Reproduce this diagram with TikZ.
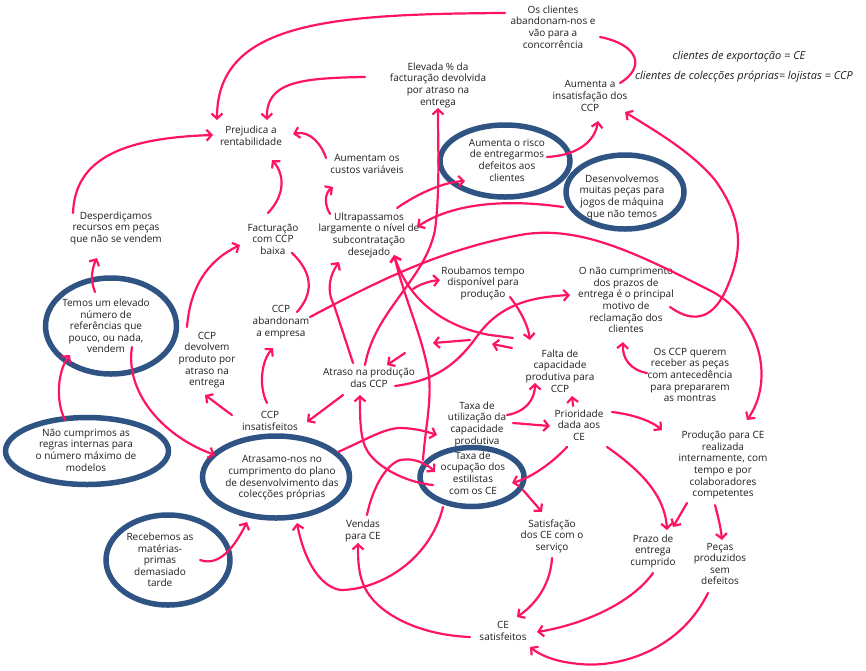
\documentclass[tikz,border=0pt]{standalone}
\usepackage{fontspec}
\setmainfont{Open Sans}
\usetikzlibrary{shapes.geometric,arrows.meta,calc}
\definecolor{pk}{RGB}{255,20,100}
\definecolor{eb}{RGB}{47,84,132}
\definecolor{tx}{RGB}{30,30,30}
\begin{document}
\begin{tikzpicture}[x=1pt,y=-1pt,
 lbl/.style={align=center,font=\fontsize{10}{11.6}\selectfont,text=tx,inner sep=1pt},
 leg/.style={lbl,font=\fontsize{11}{12}\selectfont\itshape},
 ell/.style={draw=eb,line width=5.5pt,ellipse,inner sep=0pt},
 arr/.style={draw=pk,line width=2.2pt,line cap=round,-{Straight Barb[length=5pt,width=11pt]}},
 ln/.style={draw=pk,line width=2.2pt,line cap=round}]
\useasboundingbox (0,0) rectangle (866,670);
% plain labels
\node[lbl] (osc) at (553,27) {Os clientes\\abandonam-nos e\\vão para a\\concorrência};
\node[leg] (leg1) at (739,57) {clientes de exportação = CE};
\node[leg] (leg2) at (744,77) {clientes de colecções próprias= lojistas = CCP};
\node[lbl] (elev) at (438,85) {Elevada \% da\\facturação devolvida\\por atraso na\\entrega};
\node[lbl] (insat) at (590,96) {Aumenta a\\insatisfação dos\\CCP};
\node[lbl] (prej) at (251,136) {Prejudica a\\rentabilidade};
\node[lbl] (custos) at (367,164) {Aumentam os\\custos variáveis};
\node[lbl] (desp) at (116,228) {Desperdiçamos\\recursos em peças\\que não se vendem};
\node[lbl] (fact) at (273,239) {Facturação\\com CCP\\baixa};
\node[lbl] (ultra) at (369,235) {Ultrapassamos\\largamente o nível de\\subcontratação\\desejado};
\node[lbl] (roub) at (483,283) {Roubamos tempo\\disponível para\\produção};
\node[lbl] (nao) at (626,300) {O não cumprimento\\dos prazos de\\entrega é o principal\\motivo de\\reclamação dos\\clientes};
\node[lbl] (aband) at (281,322) {CCP\\abandonam\\a empresa};
\node[lbl] (devol) at (207,360) {CCP\\devolvem\\produto por\\atraso na\\entrega};
\node[lbl] (atraso) at (369,378) {Atraso na produção\\das CCP};
\node[lbl] (falta) at (560,371) {Falta de\\capacidade\\produtiva para\\CCP};
\node[lbl] (querem) at (690,375) {Os CCP querem\\receber as peças\\com antecedência\\para prepararem\\as montras};
\node[lbl] (insf) at (270,421) {CCP\\insatisfeitos};
\node[lbl] (util) at (477,424) {Taxa de\\utilização da\\capacidade\\produtiva};
\node[lbl] (prio) at (579,425) {Prioridade\\dada aos\\CE};
\node[lbl] (prod) at (723,465) {Produção para CE\\realizada\\internamente, com\\tempo e por\\colaboradores\\competentes};
\node[lbl] (vendas) at (363,531) {Vendas\\para CE};
\node[lbl] (satis) at (552,536) {Satisfação\\dos CE com o\\serviço};
\node[lbl] (prazo) at (653,551) {Prazo de\\entrega\\cumprido};
\node[lbl] (pecas) at (720,564) {Peças\\produzidos\\sem\\defeitos};
\node[lbl] (cesat) at (503,631) {CE\\satisfeitos};
% ellipses
\node[ell,minimum width=130,minimum height=72] (risco) at (505,161) {};
\node[ell,minimum width=118,minimum height=74] (desenv) at (625,192) {};
\node[ell,minimum width=131,minimum height=96] (temos) at (111,326) {};
\node[ell,minimum width=163,minimum height=67] (regras) at (87,451) {};
\node[ell,minimum width=147,minimum height=82] (atrasamo) at (276,477) {};
\node[ell,minimum width=104,minimum height=59] (ocup) at (472,477) {};
\node[ell,minimum width=124,minimum height=90] (receb) at (168,560) {};
\node[lbl] (riscoT) at (507,160) {Aumenta o risco\\de entregarmos\\defeitos aos\\clientes};
\node[lbl] (desenvT) at (622,197) {Desenvolvemos\\muitas peças para\\jogos de máquina\\que não temos};
\node[lbl] (temosT) at (106,326) {Temos um elevado\\número de\\referências que\\pouco, ou nada,\\vendem};
\node[lbl] (regrasT) at (86,450) {Não cumprimos as\\regras internas para\\o número máximo de\\modelos};
\node[lbl] (atrasamoT) at (282,478) {Atrasamo-nos no\\cumprimento do plano\\de desenvolvimento das\\colecções próprias};
\node[lbl] (ocupT) at (473,473) {Taxa de\\ocupação dos\\estilistas\\com os CE};
\node[lbl] (recebT) at (160,560) {Recebemos as\\matérias-\\primas\\demasiado\\tarde};
\coordinate (rb0) at (413,289);
% connectors
\draw[arr] ($(osc)+(-48,-14)$) .. controls (330,14) and (217,22) .. ($(prej)+(-34,-16)$);
\draw[arr] ($(elev)+(-73,-8)$) .. controls (300,78) and (266,82) .. ($(prej)+(16,-16)$);
\draw[arr] ($(custos)+(-41,-6)$) .. controls (322,145) and (310,130) .. ($(prej)+(42,-2)$);
\draw[arr] ($(desp)+(-43,-15)$) .. controls (75,160) and (120,138) .. ($(prej)+(-38,-1)$);
\draw[arr] ($(fact)+(-5,-26)$) .. controls (285,195) and (285,175) .. ($(prej)+(21,24)$);
\draw[arr] ($(ultra)+(-39,-21)$) .. controls (323,202) and (326,192) .. ($(custos)+(-34,23)$);
\draw[arr] ($(ultra)+(28,-27)$) .. controls (420,192) and (445,182) .. ($(risco)+(-40,20)$);
\draw[arr] ($(risco)+(42,-4)$) .. controls (580,155) and (595,140) .. ($(insat)+(8,25)$);
\draw[ln] ($(insat)+(30,-13)$) .. controls (645,68) and (640,45) .. ($(osc)+(47,10)$);
\draw[arr] ($(nao)+(44,7)$) .. controls (695,325) and (715,318) .. (728,285) .. controls (745,245) and (740,215) .. (715,180) .. controls (690,150) and (650,128) .. ($(insat)+(35,16)$);
\draw[arr] ($(desenv)+(-62,15)$) .. controls (500,198) and (450,205) .. ($(ultra)+(48,-8)$);
\draw[arr] ($(atraso)+(-4,-13)$) .. controls (375,310) and (425,280) .. (435,230) .. controls (440,190) and (438,150) .. ($(elev)+(0,23)$);
\draw[arr] ($(temos)+(-16,-34)$) .. controls (90,280) and (92,268) .. ($(desp)+(-19,30)$);
\draw[arr] ($(devol)+(-20,-33)$) .. controls (190,290) and (205,262) .. ($(fact)+(-33,6)$);
\draw[ln] ($(fact)+(19,14)$) .. controls (315,275) and (312,295) .. ($(aband)+(16,-10)$);
\draw[arr] ($(atraso)+(-16,-15)$) -- (334,305) .. controls (326,290) and (330,275) .. ($(ultra)+(-30,27)$);
\draw[arr] ($(ocup)+(-49,-17)$) .. controls (425,430) and (433,395) .. (428,370) .. controls (420,330) and (405,300) .. ($(ultra)+(25,20)$);
\draw[arr] ($(falta)+(-47,-33)$) -- (490,335) .. controls (450,328) and (410,305) .. ($(ultra)+(25,20)$);
\draw[arr] (rb0) .. controls (420,284) and (430,281) .. ($(roub)+(-43,-3)$);
\draw[arr] ($(roub)+(27,14)$) .. controls (520,310) and (528,325) .. ($(falta)+(-30,-31)$);
\draw[arr] ($(atraso)+(26,8)$) .. controls (440,380) and (460,360) .. (478,335) .. controls (500,305) and (530,297) .. ($(nao)+(-56,-5)$);
\draw[arr] ($(falta)+(-48,-23)$) -- ($(falta)+(-68,-27)$);
\draw[arr] ($(falta)+(-90,-31)$) -- ($(falta)+(-127,-28)$);
\draw[arr] ($(atraso)+(36,-25)$) -- ($(atraso)+(18,-13)$);
\draw[arr] ($(aband)+(29,-5)$) .. controls (380,280) and (440,250) .. (520,235) .. controls (580,224) and (640,255) .. (713,292) .. controls (760,318) and (775,380) .. ($(prod)+(24,-45)$);
\draw[arr] ($(insf)+(-3,-18)$) .. controls (258,385) and (262,360) .. ($(aband)+(-8,26)$);
\draw[arr] ($(insf)+(-38,-6)$) .. controls (222,408) and (212,400) .. ($(devol)+(-2,35)$);
\draw[arr] ($(atraso)+(-26,17)$) -- ($(insf)+(37,1)$);
\draw[arr] ($(querem)+(-43,-2)$) .. controls (630,370) and (622,358) .. ($(nao)+(-3,42)$);
\draw[arr] ($(prio)+(33,-13)$) .. controls (630,414) and (650,420) .. ($(prod)+(-61,-35)$);
\draw[arr] ($(prio)+(-6,-19)$) -- ($(falta)+(12,25)$);
\draw[arr] ($(util)+(30,-9)$) .. controls (525,412) and (535,400) .. ($(falta)+(-25,12)$);
\draw[arr] ($(util)+(36,-1)$) -- ($(prio)+(-29,1)$);
\draw[arr] ($(prio)+(-12,22)$) .. controls (550,465) and (530,478) .. ($(ocup)+(40,6)$);
\draw[arr] ($(prio)+(28,22)$) .. controls (640,470) and (665,495) .. ($(prazo)+(14,-21)$);
\draw[arr] ($(prod)+(-36,38)$) -- ($(prazo)+(20,-24)$);
\draw[arr] ($(prod)+(-8,40)$) .. controls (719,520) and (721,530) .. ($(pecas)+(2,-24)$);
\draw[arr] ($(ocup)+(51,13)$) -- ($(satis)+(-10,-24)$);
\draw[arr] ($(satis)+(0,22)$) .. controls (550,590) and (530,608) .. ($(cesat)+(14,-14)$);
\draw[arr] ($(prazo)+(0,22)$) .. controls (630,605) and (580,625) .. ($(cesat)+(34,1)$);
\draw[arr] ($(pecas)+(-12,29)$) .. controls (680,650) and (620,668) .. (580,664) .. controls (555,662) and (540,655) .. ($(cesat)+(27,16)$);
\draw[arr] ($(cesat)+(-33,6)$) .. controls (420,635) and (380,615) .. (366,590) .. controls (358,575) and (358,560) .. ($(vendas)+(-5,12)$);
\draw[arr] ($(ocup)+(-29,30)$) .. controls (430,560) and (380,590) .. (340,590) .. controls (315,585) and (302,550) .. ($(atrasamo)+(21,46)$);
\draw[arr] ($(vendas)+(4,-16)$) .. controls (372,490) and (385,465) .. (400,460) .. controls (415,457) and (428,465) .. ($(ocup)+(-37,-5)$);
\draw[arr] ($(atrasamo)+(62,-25)$) .. controls (365,440) and (385,428) .. (400,428) .. controls (415,428) and (428,432) .. ($(util)+(-40,11)$);
\draw[arr] ($(ocup)+(-39,8)$) .. controls (410,483) and (380,470) .. (368,452) .. controls (360,440) and (360,420) .. ($(atraso)+(-9,17)$);
\draw[arr] ($(temos)+(21,21)$) .. controls (125,390) and (160,435) .. ($(atrasamo)+(-61,-22)$);
\draw[arr] ($(receb)+(32,0)$) .. controls (222,568) and (238,540) .. ($(atrasamo)+(-29,45)$);
\draw[arr] ($(regras)+(-22,-31)$) .. controls (55,400) and (58,370) .. ($(temos)+(-41,29)$);
\end{tikzpicture}
\end{document}
